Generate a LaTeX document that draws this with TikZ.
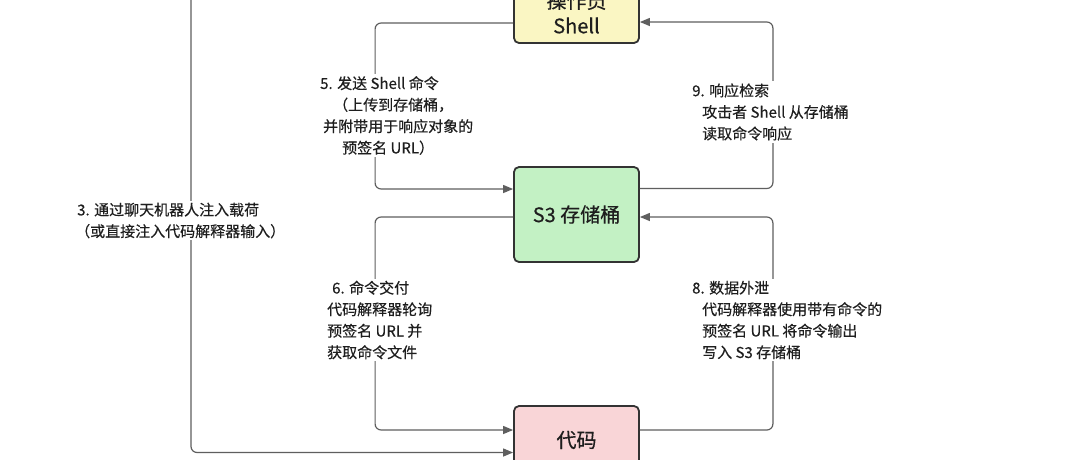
\documentclass[tikz,border=0pt]{standalone}
\usepackage{fontspec}
\setmainfont{Noto Sans CJK SC}
\newfontfamily\medfont[FakeBold=0.35]{Noto Sans CJK SC}
\usetikzlibrary{arrows.meta,positioning}
\definecolor{boxline}{HTML}{333333}
\definecolor{conncol}{HTML}{5F5F5F}
\definecolor{txtcol}{HTML}{1E1E1E}
\definecolor{yellowfill}{HTML}{FAF6C3}
\definecolor{greenfill}{HTML}{C3F1C4}
\definecolor{pinkfill}{HTML}{F9D5D7}
\tikzset{
  box/.style={draw=boxline, line width=1.8pt, rounded corners=5pt, minimum width=125pt,
    text=txtcol, align=center, inner sep=0pt, font=\medfont\fontsize{20}{25}\selectfont},
  conn/.style={draw=conncol, line width=1.2pt, rounded corners=6pt,
    -{Triangle[length=10pt,width=8pt]}},
  lbl/.style={fill=white, inner sep=2pt, align=left, text=txtcol, anchor=west,
    font=\medfont\fontsize{15}{21.5}\selectfont}
}
\begin{document}
\begin{tikzpicture}[x=1pt,y=-1pt]
\useasboundingbox (0,0) rectangle (1080,459);
\fill[white] (0,0) rectangle (1080,459);
\clip (0,0) rectangle (1080,459);

% boxes
\node[box, fill=yellowfill, minimum height=61pt] (shell) at (576.5,12.5) {操作员\\Shell};
\node[box, fill=greenfill, minimum height=95pt] (s3) at (576.5,214.5) {S3 存储桶};
\node[box, fill=pinkfill, minimum height=68pt] (code) at (576.5,440) {代码};

% free end of connector 3 (source above the picture)
\coordinate (src) at (191,-40);

% connectors
\draw[conn] ([yshift=-10.5pt]shell.west) -- ++(-138pt,0) |- ([yshift=25.5pt]s3.west);
\draw[conn] ([yshift=26pt]s3.east) -- ++(133pt,0) |- ([yshift=-9.5pt]shell.east);
\draw[conn] ([yshift=-2.5pt]s3.west) -- ++(-138pt,0) |- ([yshift=10pt]code.west);
\draw[conn] ([yshift=10pt]code.east) -- ++(133pt,0) |- ([yshift=-2.5pt]s3.east);
\draw[conn] (src) |- ([yshift=-12.5pt]code.west);

% labels
\node[lbl] (l5) at (318,115.5) {5. 发送 Shell 命令\\\hspace*{13pt}（上传到存储桶，\\\hspace*{3pt}并附带用于响应对象的\\\hspace*{22pt}预签名 URL）};
\node[lbl] (l9) at (690,112) {9. 响应检索\\\hspace*{10pt}攻击者 Shell 从存储桶\\\hspace*{10pt}读取命令响应};
\node[lbl] (l6) at (325,320) {\hspace*{5pt}6. 命令交付\\代码解释器轮询\\预签名 URL 并\\获取命令文件};
\node[lbl] (l8) at (690,320) {8. 数据外泄\\\hspace*{10pt}代码解释器使用带有命令的\\\hspace*{10pt}预签名 URL 将命令输出\\\hspace*{10pt}写入 S3 存储桶};
\node[lbl] (l3) at (73,220.5) {\hspace*{2pt}3. 通过聊天机器人注入载荷\\（或直接注入代码解释器输入）};
\end{tikzpicture}
\end{document}
